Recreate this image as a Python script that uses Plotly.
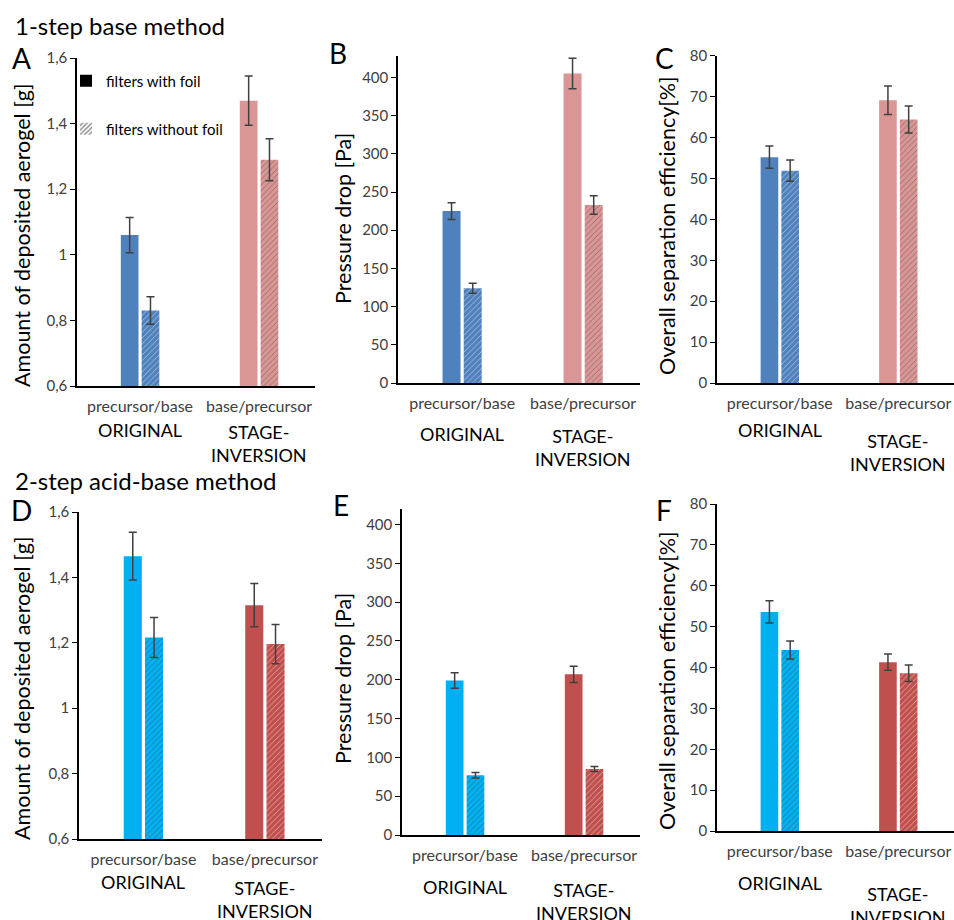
import plotly.graph_objects as go

W, H = 954, 920

categories = ["precursor/base", "base/precursor"]
group_labels = ["ORIGINAL", "STAGE-<br>INVERSION"]

# panel data: values for [precursor/base, base/precursor]
A_foil = [1.06, 1.47];   A_foil_err = [0.054, 0.075]
A_nofoil = [0.83, 1.29]; A_nofoil_err = [0.042, 0.064]
B_foil = [225, 405];     B_foil_err = [11, 20]
B_nofoil = [124, 233];   B_nofoil_err = [6.5, 12]
C_foil = [55.2, 69.1];   C_foil_err = [2.7, 3.5]
C_nofoil = [51.9, 64.4]; C_nofoil_err = [2.6, 3.3]
D_foil = [1.465, 1.315]; D_foil_err = [0.073, 0.066]
D_nofoil = [1.216, 1.196]; D_nofoil_err = [0.061, 0.060]
E_foil = [199, 207];     E_foil_err = [10, 10.5]
E_nofoil = [77, 85];     E_nofoil_err = [3.6, 3.2]
F_foil = [53.6, 41.3];   F_foil_err = [2.7, 2.0]
F_nofoil = [44.3, 38.6]; F_nofoil_err = [2.2, 2.0]

amount_ticks = [0.6, 0.8, 1.0, 1.2, 1.4, 1.6]
amount_ticktext = ["0,6", "0,8", "1", "1,2", "1,4", "1,6"]
pressure_ticks = [0, 50, 100, 150, 200, 250, 300, 350, 400]
eff_ticks = [0, 10, 20, 30, 40, 50, 60, 70, 80]
legend_names = ["filters with foil", "filters without foil"]

row1_colors = ["#4F81BD", "#D99694"]
row2_colors = ["#00B0F0", "#C0504D"]

FONT = "Lato"

def xf(px):
    return px / W

def yf(py):
    return 1 - py / H

panels = [
    dict(f=A_foil, fe=A_foil_err, n=A_nofoil, ne=A_nofoil_err, c=row1_colors,
         xd=(77, 315), yd=(58, 386), yr=[0.6, 1.6], tv=amount_ticks, tt=amount_ticktext,
         title="Amount of deposited aerogel [g]", tx=22, ty=235, letter="A", lx=21, ly=58,
         orig=430, stage=419),
    dict(f=B_foil, fe=B_foil_err, n=B_nofoil, ne=B_nofoil_err, c=row1_colors,
         xd=(398, 640), yd=(56, 383), yr=[0, 428], tv=pressure_ticks, tt=[str(v) for v in pressure_ticks],
         title="Pressure drop [Pa]", tx=343, ty=219, letter="B", lx=338, ly=53,
         orig=434, stage=423),
    dict(f=C_foil, fe=C_foil_err, n=C_nofoil, ne=C_nofoil_err, c=row1_colors,
         xd=(717, 954), yd=(55.7, 383), yr=[0, 80], tv=eff_ticks, tt=[str(v) for v in eff_ticks],
         title="Overall separation efficiency[%]", tx=667, ty=226, letter="C", lx=664, ly=58,
         orig=430, stage=428),
    dict(f=D_foil, fe=D_foil_err, n=D_nofoil, ne=D_nofoil_err, c=row2_colors,
         xd=(79, 322), yd=(512, 839), yr=[0.6, 1.6], tv=amount_ticks, tt=amount_ticktext,
         title="Amount of deposited aerogel [g]", tx=22, ty=688, letter="D", lx=21, ly=510,
         orig=882, stage=875),
    dict(f=E_foil, fe=E_foil_err, n=E_nofoil, ne=E_nofoil_err, c=row2_colors,
         xd=(402, 640), yd=(509, 835), yr=[0, 420], tv=pressure_ticks, tt=[str(v) for v in pressure_ticks],
         title="Pressure drop [Pa]", tx=343, ty=679, letter="E", lx=341, ly=505,
         orig=887, stage=877),
    dict(f=F_foil, fe=F_foil_err, n=F_nofoil, ne=F_nofoil_err, c=row2_colors,
         xd=(717, 954), yd=(504, 831), yr=[0, 80], tv=eff_ticks, tt=[str(v) for v in eff_ticks],
         title="Overall separation efficiency[%]", tx=667, ty=681, letter="F", lx=664, ly=510,
         orig=883, stage=881),
]

fig = go.Figure()
annotations = []
layout_axes = {}

ERR = dict(type="data", color="#404040", thickness=1.5, width=4)
PAT = dict(shape="/", bgcolor="white", size=4, solidity=0.22)

for i, p in enumerate(panels, start=1):
    xa = "x" if i == 1 else f"x{i}"
    ya = "y" if i == 1 else f"y{i}"
    fig.add_trace(go.Bar(
        x=categories, y=p["f"], xaxis=xa, yaxis=ya, showlegend=False,
        marker=dict(color=p["c"], line=dict(width=0)),
        error_y=dict(array=p["fe"], **ERR),
    ))
    fig.add_trace(go.Bar(
        x=categories, y=p["n"], xaxis=xa, yaxis=ya, showlegend=False,
        marker=dict(color=p["c"], line=dict(width=0),
                    pattern=dict(fgcolor=p["c"], **PAT)),
        error_y=dict(array=p["ne"], **ERR),
    ))
    xkey = "xaxis" if i == 1 else f"xaxis{i}"
    ykey = "yaxis" if i == 1 else f"yaxis{i}"
    layout_axes[xkey] = dict(
        domain=[xf(p["xd"][0]), xf(p["xd"][1])], anchor=ya,
        type="category", range=[-0.53, 1.47], automargin=False,
        showline=True, linecolor="black", linewidth=1.8,
        ticks="", showgrid=False, zeroline=False,
        tickfont=dict(family=FONT, size=16, color="#404040"),
        ticklabelstandoff=5,
    )
    layout_axes[ykey] = dict(
        domain=[yf(p["yd"][1]), yf(p["yd"][0])], anchor=xa,
        range=p["yr"], tickvals=p["tv"], ticktext=p["tt"], automargin=False,
        showline=True, linecolor="black", linewidth=1.5,
        ticks="outside", ticklen=5, tickcolor="black", tickwidth=1,
        showgrid=False, zeroline=False,
        tickfont=dict(family=FONT, size=15, color="#404040"),
    )
    annotations.append(dict(
        text=p["title"], x=xf(p["tx"]), y=yf(p["ty"]), xref="paper", yref="paper",
        textangle=-90, showarrow=False, xanchor="center", yanchor="middle",
        font=dict(family=FONT, size=21.5, color="black"),
    ))
    annotations.append(dict(
        text=p["letter"], x=xf(p["lx"]), y=yf(p["ly"]), xref="paper", yref="paper",
        showarrow=False, xanchor="center", yanchor="middle",
        font=dict(family=FONT, size=28, color="black"),
    ))
    annotations.append(dict(
        text=group_labels[0], x=categories[0], y=yf(p["orig"]), xref=xa, yref="paper",
        showarrow=False, xanchor="center", yanchor="middle",
        font=dict(family=FONT, size=18, color="black"),
    ))
    annotations.append(dict(
        text=group_labels[1], x=categories[1], y=yf(p["stage"]), xref=xa, yref="paper",
        showarrow=False, xanchor="center", yanchor="top",
        font=dict(family=FONT, size=18, color="black"),
    ))

annotations.append(dict(text="1-step base method", x=xf(13), y=yf(25), xref="paper", yref="paper",
                        showarrow=False, xanchor="left", yanchor="middle",
                        font=dict(family=FONT, size=24, color="black")))
annotations.append(dict(text="2-step acid-base method", x=xf(13), y=yf(480), xref="paper", yref="paper",
                        showarrow=False, xanchor="left", yanchor="middle",
                        font=dict(family=FONT, size=24, color="black")))

# legend entries on a hidden axis pair so they do not affect bar grouping
fig.add_trace(go.Bar(x=[None], y=[None], xaxis="x7", yaxis="y7", name=legend_names[0],
                     marker=dict(color="black", line=dict(width=0)), legend="legend", showlegend=True))
fig.add_trace(go.Bar(x=[None], y=[None], xaxis="x7", yaxis="y7", name=legend_names[1],
                     marker=dict(color="black", line=dict(width=0),
                                 pattern=dict(shape="/", fgcolor="black", bgcolor="white", size=4, solidity=0.4)),
                     legend="legend2", showlegend=True))
layout_axes["xaxis7"] = dict(domain=[0, 0.01], anchor="y7", visible=False, automargin=False)
layout_axes["yaxis7"] = dict(domain=[0, 0.01], anchor="x7", visible=False, automargin=False)

fig.update_layout(
    width=W, height=H, margin=dict(l=0, r=0, t=0, b=0, autoexpand=False),
    paper_bgcolor="white", plot_bgcolor="white",
    barmode="group", bargap=0.65, bargroupgap=0.15,
    annotations=annotations,
    legend=dict(x=xf(66), y=yf(81), xanchor="left", yanchor="middle",
                font=dict(family=FONT, size=15, color="black"), bgcolor="rgba(0,0,0,0)",
                itemwidth=30),
    legend2=dict(x=xf(66), y=yf(129), xanchor="left", yanchor="middle",
                 font=dict(family=FONT, size=15, color="black"), bgcolor="rgba(0,0,0,0)",
                 itemwidth=30),
    **layout_axes,
)

fig.write_html("out.html")
